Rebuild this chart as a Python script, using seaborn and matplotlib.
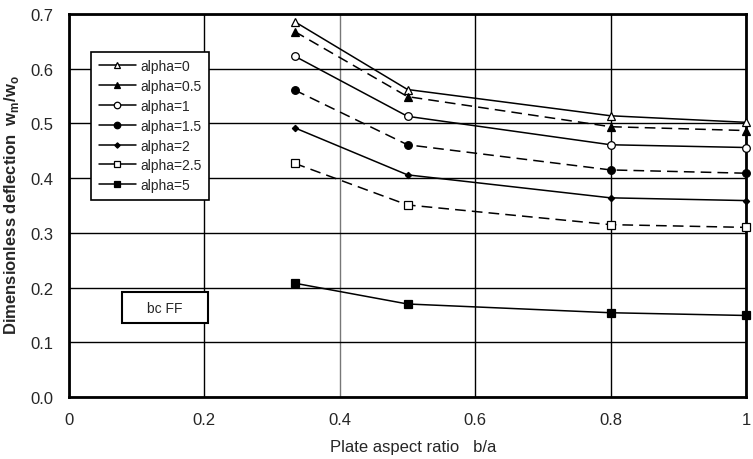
import numpy as np
import pandas as pd
import matplotlib
matplotlib.use("Agg")
import matplotlib.pyplot as plt
from matplotlib.patches import Rectangle
import seaborn as sns

# --- datos ---
ratio_ba = [1 / 3, 0.5, 0.8, 1.0]

alpha_labels = ["alpha=0", "alpha=0.5", "alpha=1", "alpha=1.5",
                "alpha=2", "alpha=2.5", "alpha=5"]
w_alpha0 = [0.686, 0.562, 0.514, 0.502]
w_alpha05 = [0.668, 0.549, 0.494, 0.487]
w_alpha1 = [0.623, 0.513, 0.461, 0.456]
w_alpha15 = [0.561, 0.461, 0.415, 0.409]
w_alpha2 = [0.492, 0.406, 0.364, 0.359]
w_alpha25 = [0.427, 0.351, 0.315, 0.310]
w_alpha5 = [0.208, 0.170, 0.154, 0.149]

series = [w_alpha0, w_alpha05, w_alpha1, w_alpha15, w_alpha2, w_alpha25, w_alpha5]

# estilo de cada curva: (marcador, relleno, tamano, linea)
estilos = [
    ("^", "white", 5.5, "-"),
    ("^", "black", 5.5, (0, (7, 4))),
    ("o", "white", 5.5, "-"),
    ("o", "black", 5.5, (0, (7, 4))),
    ("D", "black", 3.2, "-"),
    ("s", "white", 5.5, (0, (7, 4))),
    ("s", "black", 5.5, "-"),
]

xticks = [0, 0.2, 0.4, 0.6, 0.8, 1]
xtick_labels = ["0", "0.2", "0.4", "0.6", "0.8", "1"]
yticks = [0.0, 0.1, 0.2, 0.3, 0.4, 0.5, 0.6, 0.7]

sns.set_style("white")
plt.rcParams["font.family"] = ["Liberation Sans", "DejaVu Sans"]

fig, ax = plt.subplots(figsize=(7.53, 4.60), dpi=100)
fig.subplots_adjust(left=69 / 753, right=746 / 753, top=1 - 15 / 460, bottom=1 - 398 / 460)

for label, valores, (mk, fc, ms, ls) in zip(alpha_labels, series, estilos):
    df = pd.DataFrame({"ba": ratio_ba, "w": valores})
    sns.lineplot(data=df, x="ba", y="w", ax=ax, color="black", linewidth=1.1,
                 linestyle=ls, marker=mk, markersize=ms, markerfacecolor=fc,
                 markeredgecolor="black", markeredgewidth=0.9, label=label,
                 clip_on=False, zorder=3)

ax.set_xlim(0, 1)
ax.set_ylim(0, 0.7)
ax.set_xticks(xticks)
ax.set_xticklabels(xtick_labels)
ax.set_yticks(yticks)
ax.set_yticklabels([f"{v:.1f}" for v in yticks])
ax.set_xlabel("")
ax.set_ylabel("")

ax.grid(True, color="black", linewidth=1.0)
ax.get_xgridlines()[2].set_color("#777777")
for sp in ax.spines.values():
    sp.set_color("black")
    sp.set_linewidth(2)
ax.tick_params(axis="both", direction="out", length=5, width=1.5, color="black",
               pad=6)
for t in ax.get_xticklabels() + ax.get_yticklabels():
    t.set_family(["Liberation Sans Narrow", "Liberation Sans"])
    t.set_fontsize(12)

leg = ax.legend(loc="upper left", bbox_to_anchor=(0.0325, 0.902), borderaxespad=0,
                fancybox=False, edgecolor="black", framealpha=1, fontsize=10,
                handlelength=2.7, labelspacing=0.42, handletextpad=0.3,
                borderpad=0.55)
leg.get_frame().set_linewidth(1.2)
for ln in leg.get_lines():
    ln.set_linestyle("-")
    ln.set_markersize(ln.get_markersize() * 0.85)

# recuadro "bc FF"
ax.add_patch(Rectangle((0.078, 0.136), 0.127, 0.055, facecolor="white",
                       edgecolor="black", linewidth=1.5, zorder=4))
ax.text(0.1415, 0.1635, "bc FF", ha="center", va="center", fontsize=10, zorder=5)

fig.text(0.5 * (319 + 507) / 753, 1 - 440 / 460, "Plate aspect ratio   b/a",
         ha="center", va="top", fontsize=12,
         family=["Liberation Sans Narrow", "Liberation Sans"])
fig.text(2 / 753, 1 - 205 / 460,
         r"Dimensionless deflection  w$_\mathregular{m}$/w$_\mathregular{o}$",
         rotation=90, ha="left", va="center", fontsize=12, fontweight="bold")

fig.savefig("out.png", dpi=100)
